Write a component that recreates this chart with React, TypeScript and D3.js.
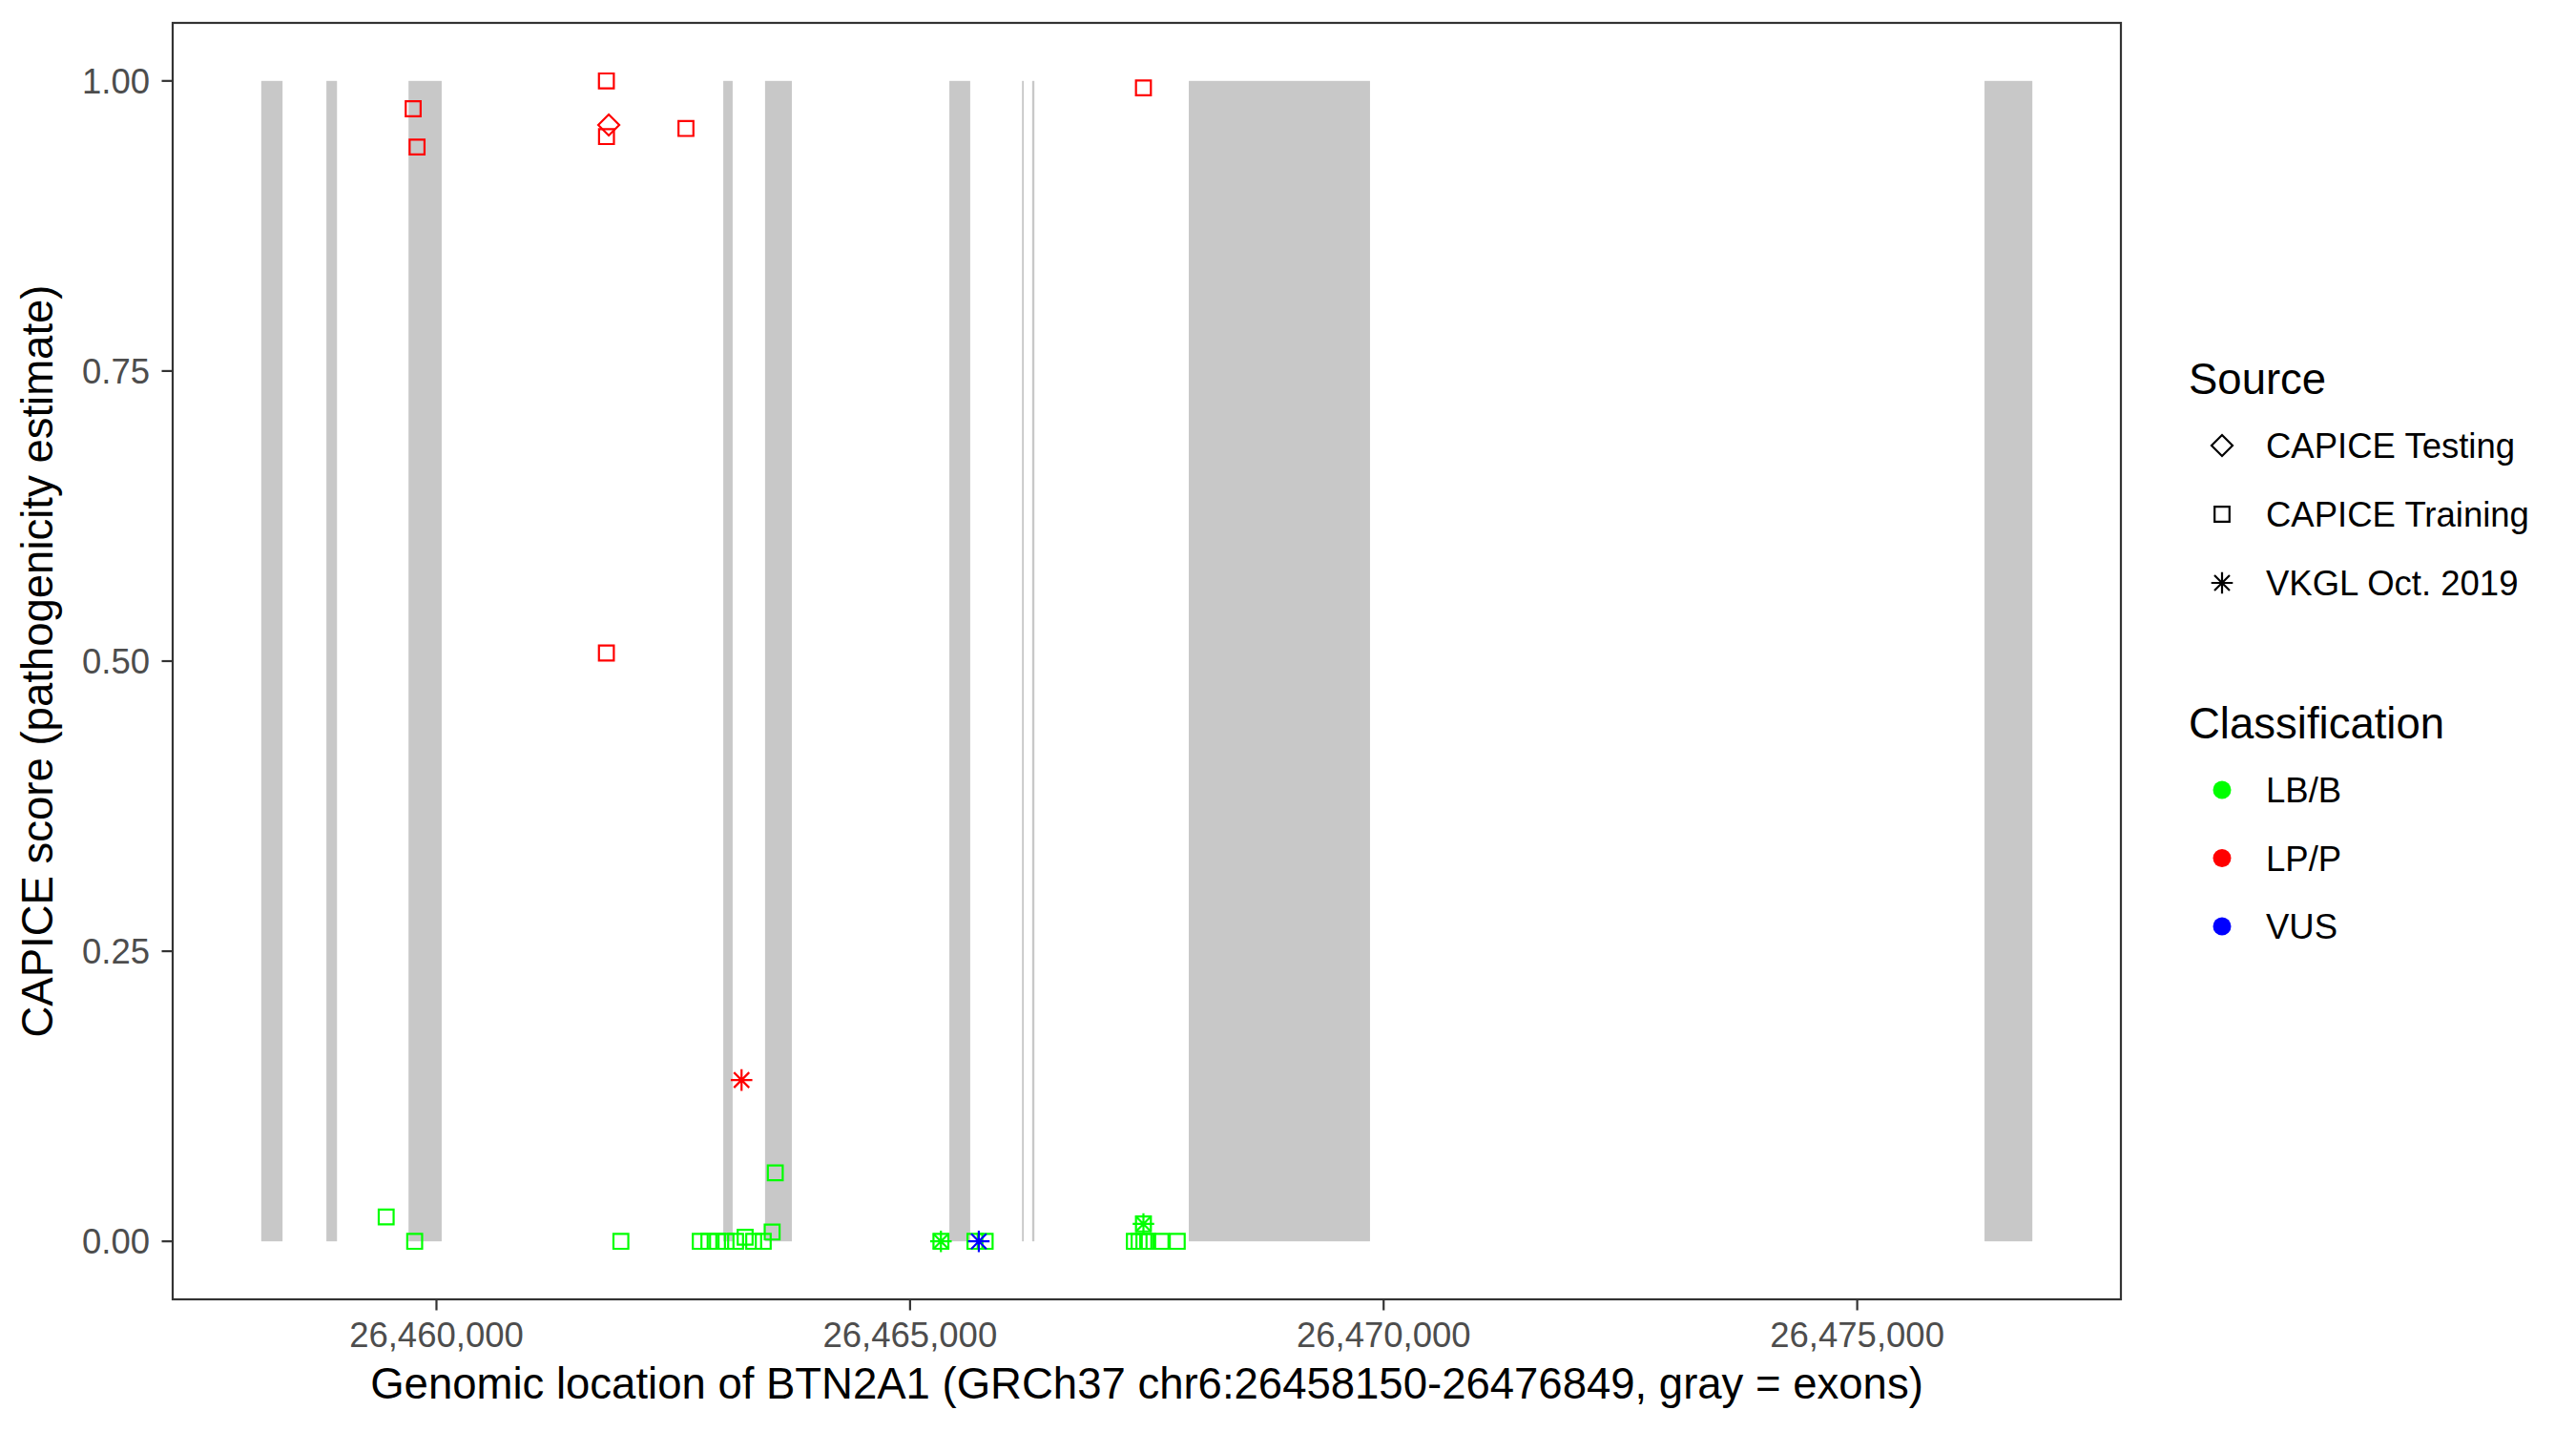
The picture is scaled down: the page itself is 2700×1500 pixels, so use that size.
import React from "react";
import * as d3 from "d3";

// Gene region (GRCh37 chr6)
const geneStart = 26458150;
const geneEnd = 26476849;

// Exons (gray bands)
const exonStart = [26458150, 26458838, 26459705, 26463028, 26463469, 26465415, 26466182, 26466289, 26467943, 26476344];
const exonEnd = [26458375, 26458950, 26460055, 26463127, 26463752, 26465635, 26466201, 26466313, 26469856, 26476849];

// Variants
const variantPos = [
  // LB/B
  26459469, 26459770, 26461947, 26462785, 26462876, 26462967, 26463057, 26463158, 26463259, 26463349,
  26463450, 26463544, 26463577, 26465326, 26465685, 26465793, 26467368, 26467418, 26467469, 26467509,
  26467650, 26467821, 26467464, 26465326, 26467464,
  // LP/P
  26459754, 26459795, 26461794, 26461819, 26461795, 26462634, 26461794, 26467464, 26463221,
  // VUS
  26465726,
];
const variantScore = [
  0.021, 0.0, 0.0, 0.0, 0.0, 0.0, 0.0, 0.0, 0.0035, 0.0,
  0.0, 0.008, 0.059, 0.0, 0.0, 0.0, 0.0, 0.0, 0.0, 0.0,
  0.0, 0.0, 0.015, 0.0, 0.015,
  0.976, 0.943, 1.0, 0.962, 0.952, 0.959, 0.507, 0.994, 0.139,
  0.0,
];
const variantSource = [
  "Training", "Training", "Training", "Training", "Training", "Training", "Training", "Training", "Training", "Training",
  "Training", "Training", "Training", "Training", "Training", "Training", "Training", "Training", "Training", "Training",
  "Training", "Training", "Training", "VKGL", "VKGL",
  "Training", "Training", "Training", "Testing", "Training", "Training", "Training", "Training", "VKGL",
  "VKGL",
];
const variantClass = [
  "LB/B", "LB/B", "LB/B", "LB/B", "LB/B", "LB/B", "LB/B", "LB/B", "LB/B", "LB/B",
  "LB/B", "LB/B", "LB/B", "LB/B", "LB/B", "LB/B", "LB/B", "LB/B", "LB/B", "LB/B",
  "LB/B", "LB/B", "LB/B", "LB/B", "LB/B",
  "LP/P", "LP/P", "LP/P", "LP/P", "LP/P", "LP/P", "LP/P", "LP/P", "LP/P",
  "VUS",
];

const sourceKeys = ["Testing", "Training", "VKGL"];
const sourceLabels = ["CAPICE Testing", "CAPICE Training", "VKGL Oct. 2019"];
const classKeys = ["LB/B", "LP/P", "VUS"];
const classColors = ["#00FF00", "#FF0000", "#0000FF"];

const yTicks = [0, 0.25, 0.5, 0.75, 1];
const xTicks = [26460000, 26465000, 26470000, 26475000];

const FONT = "'Liberation Sans', Arial, Helvetica, sans-serif";

function shapePath(kind: string, cx: number, cy: number): string {
  if (kind === "Training") {
    const h = 7.8;
    return `M${cx - h},${cy - h}H${cx + h}V${cy + h}H${cx - h}Z`;
  }
  if (kind === "Testing") {
    const h = 11;
    return `M${cx},${cy - h}L${cx + h},${cy}L${cx},${cy + h}L${cx - h},${cy}Z`;
  }
  const L = 11.3;
  const d = L / Math.SQRT2;
  return `M${cx - L},${cy}H${cx + L}M${cx},${cy - L}V${cy + L}M${cx - d},${cy - d}L${cx + d},${cy + d}M${cx - d},${cy + d}L${cx + d},${cy - d}`;
}

export default function App() {
  const left = 181, right = 2223, top = 24, bottom = 1362;
  const span = geneEnd - geneStart;
  const x = d3.scaleLinear().domain([geneStart - 0.05 * span, geneEnd + 0.05 * span]).range([left, right]);
  const y = d3.scaleLinear().domain([-0.05, 1.05]).range([bottom, top]);
  const colorScale = d3.scaleOrdinal<string, string>().domain(classKeys).range(classColors);
  const fmtX = d3.format(",");
  const fmtY = d3.format(".2f");

  const order = d3.range(variantPos.length).sort(
    (a, b) => classKeys.indexOf(variantClass[a]) - classKeys.indexOf(variantClass[b]) || a - b
  );

  return (
    <svg width={2700} height={1500} style={{ position: "absolute", left: 0, top: 0, background: "#fff" }} fontFamily={FONT}>
      <rect x={0} y={0} width={2700} height={1500} fill="#fff" />
      {exonStart.map((s, i) => (
        <rect key={"e" + i} x={x(s)} y={y(1)} width={x(exonEnd[i]) - x(s)} height={y(0) - y(1)} fill="#C8C8C8" />
      ))}
      {order.map((i) => (
        <path
          key={"v" + i}
          d={shapePath(variantSource[i], x(variantPos[i]), y(variantScore[i]))}
          fill="none"
          stroke={colorScale(variantClass[i])}
          strokeWidth={2.2}
        />
      ))}
      <rect x={left} y={top} width={right - left} height={bottom - top} fill="none" stroke="#333333" strokeWidth={2.2} />
      {yTicks.map((t) => (
        <g key={"yt" + t}>
          <line x1={left - 11.5} x2={left} y1={y(t)} y2={y(t)} stroke="#333333" strokeWidth={2.2} />
          <text x={157} y={y(t)} dy="0.35em" textAnchor="end" fontSize={36.5} fill="#4D4D4D">
            {fmtY(t)}
          </text>
        </g>
      ))}
      {xTicks.map((t) => (
        <g key={"xt" + t}>
          <line x1={x(t)} x2={x(t)} y1={bottom} y2={bottom + 11.5} stroke="#333333" strokeWidth={2.2} />
          <text x={x(t)} y={1412} textAnchor="middle" fontSize={36.5} fill="#4D4D4D">
            {fmtX(t)}
          </text>
        </g>
      ))}
      <text x={(left + right) / 2} y={1466} textAnchor="middle" fontSize={45.5} fill="#000">
        Genomic location of BTN2A1 (GRCh37 chr6:26458150-26476849, gray = exons)
      </text>
      <text transform={`translate(55,${(top + bottom) / 2}) rotate(-90)`} textAnchor="middle" fontSize={45.5} fill="#000">
        CAPICE score (pathogenicity estimate)
      </text>

      <text x={2294} y={413} fontSize={45.5} fill="#000">Source</text>
      {sourceKeys.map((k, i) => {
        const cy = 467 + i * 72;
        return (
          <g key={"ls" + k}>
            <path d={shapePath(k, 2329, cy)} fill="none" stroke="#000" strokeWidth={2.2} />
            <text x={2375} y={cy + 13.3} fontSize={36.5} fill="#000">{sourceLabels[i]}</text>
          </g>
        );
      })}
      <text x={2294} y={774} fontSize={45.5} fill="#000">Classification</text>
      {classKeys.map((k, i) => {
        const cy = 828 + i * 71.5;
        return (
          <g key={"lc" + k}>
            <circle cx={2329} cy={cy} r={9.5} fill={classColors[i]} />
            <text x={2375} y={cy + 13.3} fontSize={36.5} fill="#000">{k}</text>
          </g>
        );
      })}
    </svg>
  );
}
